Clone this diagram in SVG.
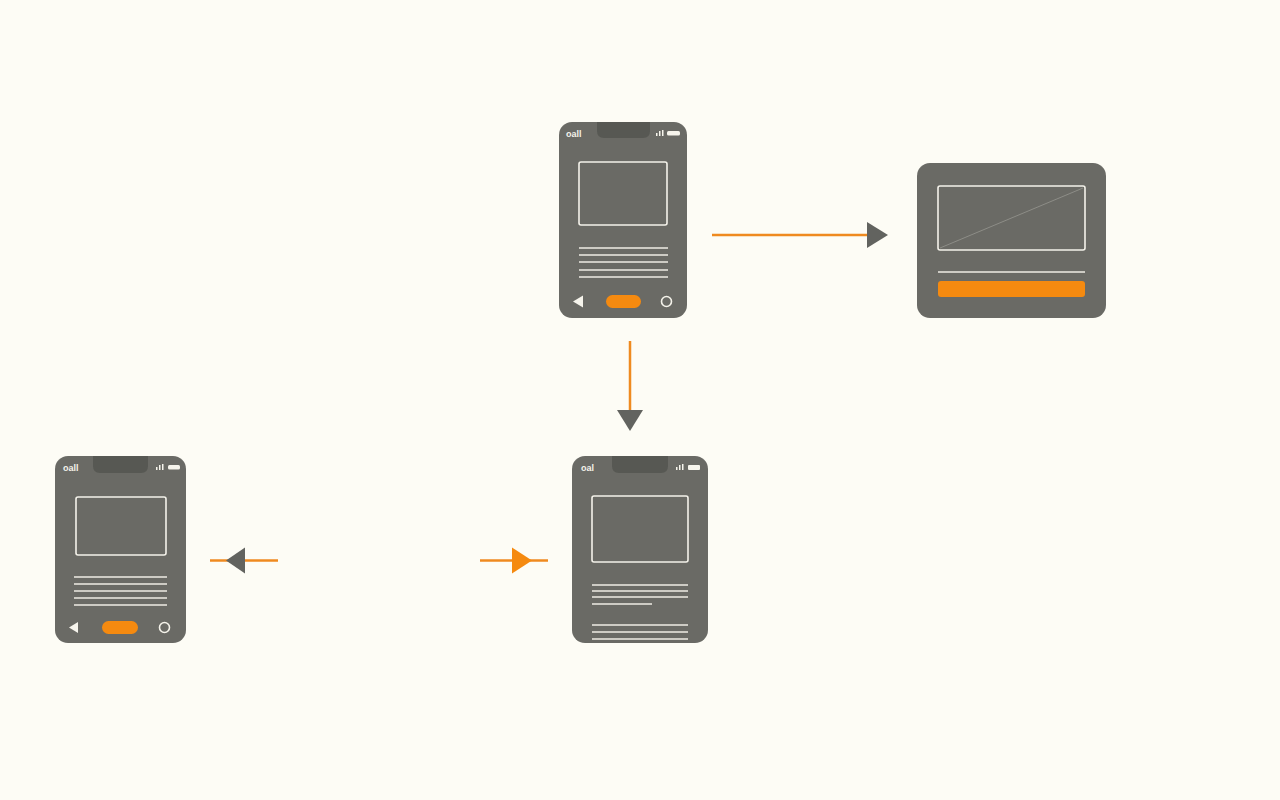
<svg xmlns="http://www.w3.org/2000/svg" width="1280" height="800" viewBox="0 0 1280 800">
<style>
.body{fill:#6a6a65}
.notch{fill:#575853}
.frame{fill:none;stroke:#f4f2ea;stroke-width:1.6}
.ln{stroke:#efede5;stroke-width:1.6}
.wh{fill:#f6f4ec}
.ring{fill:none;stroke:#f4f2ea;stroke-width:1.6}
.pill{fill:#f58a10}
.st{font-family:"Liberation Sans",Arial,sans-serif;font-size:9px;font-weight:bold;fill:#f4f2ea}
.conn{stroke:#ef8a1f;stroke-width:2.5;fill:none}
.hg{fill:#62635f}
.ho{fill:#f58a10}
</style>
<rect width="1280" height="800" fill="#fdfcf5"/>

<g id="phone-top">
<rect class="body" x="559" y="122" width="128" height="196" rx="13"/>
<path class="notch" d="M597 122 H650 V131 Q650 138 643 138 H604 Q597 138 597 131 Z"/>
<text class="st" x="566" y="137">oall</text>
<rect class="wh" x="656" y="133" width="1.5" height="3"/>
<rect class="wh" x="659" y="131" width="1.5" height="5"/>
<rect class="wh" x="662" y="130" width="1.5" height="6"/>
<rect class="wh" x="667" y="131" width="13" height="4.5" rx="1.5"/>
<rect class="frame" x="579" y="162" width="88" height="63" rx="2"/>
<line class="ln" x1="579" y1="248" x2="668" y2="248"/>
<line class="ln" x1="579" y1="255" x2="668" y2="255"/>
<line class="ln" x1="579" y1="262" x2="668" y2="262"/>
<line class="ln" x1="579" y1="270" x2="668" y2="270"/>
<line class="ln" x1="579" y1="277" x2="668" y2="277"/>
<polygon class="wh" points="573,301.5 583,295.5 583,307.5"/>
<rect class="pill" x="606" y="295" width="35" height="13" rx="6.5"/>
<circle class="ring" cx="666.5" cy="301.5" r="5"/>
</g>

<g id="tablet">
<rect class="body" x="917" y="163" width="189" height="155" rx="13"/>
<rect class="frame" x="938" y="186" width="147" height="64" rx="2"/>
<line x1="940" y1="248" x2="1083" y2="188" stroke="#8d8d87" stroke-width="1"/>
<line class="ln" x1="938" y1="272" x2="1085" y2="272"/>
<rect class="pill" x="938" y="281" width="147" height="16" rx="3"/>
</g>

<g id="phone-left">
<rect class="body" x="55" y="456" width="131" height="187" rx="13"/>
<path class="notch" d="M93 456 H148 V466 Q148 473 141 473 H100 Q93 473 93 466 Z"/>
<text class="st" x="63" y="471">oall</text>
<rect class="wh" x="156" y="467" width="1.5" height="3"/>
<rect class="wh" x="159" y="465" width="1.5" height="5"/>
<rect class="wh" x="162" y="464" width="1.5" height="6"/>
<rect class="wh" x="168" y="465" width="12" height="4.5" rx="1.5"/>
<rect class="frame" x="76" y="497" width="90" height="58" rx="2"/>
<line class="ln" x1="74" y1="577" x2="167" y2="577"/>
<line class="ln" x1="74" y1="584" x2="167" y2="584"/>
<line class="ln" x1="74" y1="591" x2="167" y2="591"/>
<line class="ln" x1="74" y1="598" x2="167" y2="598"/>
<line class="ln" x1="74" y1="605" x2="167" y2="605"/>
<polygon class="wh" points="69,627.5 78,622 78,633"/>
<rect class="pill" x="102" y="621" width="36" height="13" rx="6.5"/>
<circle class="ring" cx="164.5" cy="627.5" r="5"/>
</g>

<g id="phone-bottom">
<rect class="body" x="572" y="456" width="136" height="187" rx="13"/>
<path class="notch" d="M612 456 H668 V466 Q668 473 661 473 H619 Q612 473 612 466 Z"/>
<text class="st" x="581" y="471">oal</text>
<rect class="wh" x="676" y="467" width="1.5" height="3"/>
<rect class="wh" x="679" y="465" width="1.5" height="5"/>
<rect class="wh" x="682" y="464" width="1.5" height="6"/>
<rect class="wh" x="688" y="465" width="12" height="5" rx="1"/>
<rect class="frame" x="592" y="496" width="96" height="66" rx="2"/>
<line class="ln" x1="592" y1="585" x2="688" y2="585"/>
<line class="ln" x1="592" y1="591" x2="688" y2="591"/>
<line class="ln" x1="592" y1="597" x2="688" y2="597"/>
<line class="ln" x1="592" y1="604" x2="652" y2="604"/>
<line class="ln" x1="592" y1="625" x2="688" y2="625"/>
<line class="ln" x1="592" y1="632" x2="688" y2="632"/>
<line class="ln" x1="592" y1="639" x2="688" y2="639"/>
</g>

<g id="connectors">
<line class="conn" x1="712" y1="235" x2="870" y2="235"/>
<polygon class="hg" points="867,222 888,235 867,248"/>
<line class="conn" x1="630" y1="341" x2="630" y2="412"/>
<polygon class="hg" points="617,410 643,410 630,431"/>
<line class="conn" x1="210" y1="560.5" x2="278" y2="560.5"/>
<polygon class="hg" points="226,560.5 245,547.5 245,573.5"/>
<line class="conn" x1="480" y1="560.5" x2="548" y2="560.5"/>
<polygon class="ho" points="512,547.5 532,560.5 512,573.5"/>
</g>
</svg>
